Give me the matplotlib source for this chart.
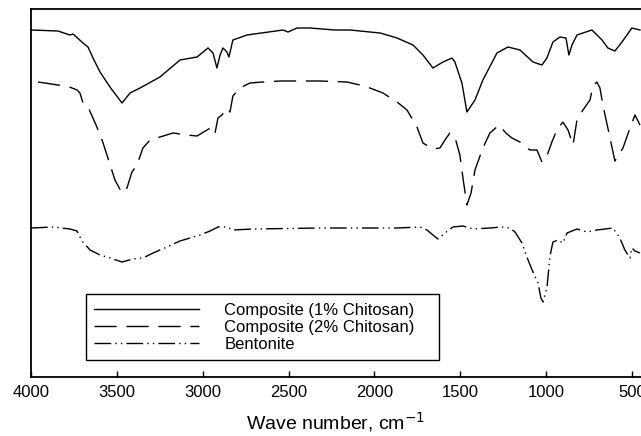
import matplotlib
matplotlib.use("Agg")
import matplotlib.pyplot as plt

plt.rcParams['font.family'] = ['Liberation Sans', 'DejaVu Sans']

# wave numbers (cm-1) and transmittance (a.u.)
wn_c1 = [4000, 3843, 3773, 3755, 3697, 3668, 3639, 3598, 3540, 3470, 3423, 3365,
         3249, 3132, 3033, 2969, 2940, 2917, 2899, 2882, 2859, 2847, 2824, 2742,
         2532, 2503, 2451, 2375, 2230, 2142, 1967, 1868, 1775, 1717, 1659, 1600,
         1548, 1531, 1490, 1461, 1414, 1368, 1286, 1222, 1152, 1076, 1024, 995,
         960, 919, 884, 867, 849, 820, 733, 674, 640, 599, 558, 500, 453]
t_c1 = [347, 346, 342, 343, 334, 330, 319, 305, 290, 274, 284, 289,
        300, 317, 320, 329, 324, 309, 322, 329, 325, 320, 337, 342,
        347, 345, 349, 349, 347, 347, 344, 339, 332, 322, 309, 315,
        319, 315, 294, 265, 277, 297, 324, 330, 327, 315, 312, 319,
        335, 340, 339, 322, 332, 342, 347, 337, 329, 326, 335, 349, 347]

wn_c2 = [3959, 3843, 3790, 3732, 3715, 3697, 3668, 3621, 3586, 3552, 3511, 3470,
         3441, 3412, 3383, 3348, 3307, 3249, 3173, 3091, 3033, 2975, 2946, 2928,
         2911, 2888, 2859, 2841, 2824, 2783, 2725, 2649, 2550, 2317, 2160, 2084,
         2026, 1950, 1868, 1810, 1752, 1717, 1659, 1618, 1589, 1560, 1531, 1502,
         1484, 1461, 1437, 1414, 1368, 1327, 1274, 1234, 1199, 1152, 1094, 1053,
         1024, 995, 966, 937, 902, 872, 843, 820, 785, 744, 727, 704,
         686, 669, 640, 599, 552, 511, 482, 453]
t_c2 = [295, 292, 291, 287, 284, 274, 270, 252, 237, 219, 197, 184,
        189, 205, 212, 229, 237, 240, 244, 242, 241, 247, 250, 244,
        259, 262, 269, 265, 281, 289, 294, 295, 296, 296, 295, 292,
        289, 284, 275, 267, 250, 234, 228, 229, 237, 244, 240, 222,
        199, 172, 184, 207, 229, 244, 252, 244, 239, 235, 227, 227,
        215, 221, 235, 247, 255, 247, 232, 257, 267, 277, 291, 295,
        289, 272, 249, 216, 229, 249, 262, 252]

wn_bt = [4000, 3872, 3773, 3732, 3703, 3656, 3598, 3540, 3470, 3406, 3348, 3289,
         3208, 3132, 3016, 2957, 2911, 2859, 2824, 2707, 2317, 1868, 1734, 1694,
         1659, 1630, 1589, 1542, 1484, 1426, 1327, 1257, 1210, 1181, 1140, 1105,
         1076, 1047, 1030, 1018, 995, 977, 960, 931, 902, 878, 820, 762,
         704, 610, 570, 541, 511, 500, 482, 453]
t_bt = [149, 150, 148, 146, 136, 127, 122, 119, 115, 118, 119, 124,
        130, 136, 142, 146, 150, 150, 147, 148, 149, 149, 150, 147,
        142, 138, 144, 150, 151, 148, 149, 150, 149, 145, 134, 117,
        105, 94, 79, 75, 89, 121, 135, 137, 134, 144, 148, 145,
        147, 149, 139, 127, 119, 129, 126, 124]

labels = ['Composite (1% Chitosan)', 'Composite (2% Chitosan)', 'Bentonite']

fig = plt.figure(figsize=(6.41, 4.36), dpi=100)
ax = fig.add_axes([31 / 641, 1 - 377 / 436, 610 / 641, 368 / 436])

lw = 1.0
ax.plot(wn_c1, t_c1, color='black', lw=lw, label=labels[0])
ax.plot(wn_c2, t_c2, color='black', lw=lw, dashes=(16, 7), label=labels[1])
ax.plot(wn_bt, t_bt, color='black', lw=lw, dashes=(12, 3, 1, 3, 1, 3),
        label=labels[2])

ax.set_xlim(4000, 447)
ax.set_ylim(0, 368)
ax.set_xticks([4000, 3500, 3000, 2500, 2000, 1500, 1000, 500])
ax.set_yticks([])
ax.tick_params(axis='x', direction='in', length=4, width=1, labelsize=12, pad=6)
ax.spines['right'].set_visible(False)
for s in ['left', 'top', 'bottom']:
    ax.spines[s].set_linewidth(1.3)

ax.set_xlabel('Wave number, cm$^{-1}$', fontsize=14, labelpad=7)

leg = ax.legend(loc='lower left', bbox_to_anchor=(0.09, 0.046, 0.579, 0.2),
                mode='expand', borderaxespad=0, fontsize=12, handlelength=6.3,
                handletextpad=1.5, labelspacing=0.12, borderpad=0.5,
                fancybox=False, framealpha=1, edgecolor='black')
leg.get_frame().set_linewidth(1.0)

fig.savefig('out.png', dpi=100)
